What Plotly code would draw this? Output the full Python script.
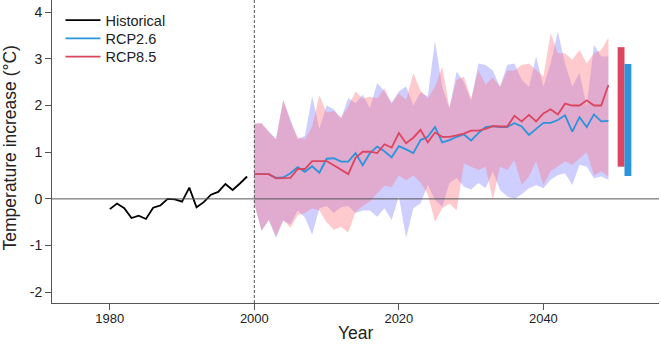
import plotly.graph_objects as go

hist_years = list(range(1980, 2000))
hist_vals = [-0.22, -0.10, -0.20, -0.41, -0.36, -0.43, -0.19, -0.14, 0.00, -0.01,
             -0.06, 0.24, -0.18, -0.07, 0.09, 0.15, 0.32, 0.19, 0.33, 0.48]

proj_years = list(range(2000, 2050))
rcp26_mean = [0.53, 0.53, 0.53, 0.45, 0.46, 0.55, 0.68, 0.58, 0.70, 0.56,
              0.86, 0.87, 0.80, 0.80, 0.98, 0.72, 0.98, 1.12, 1.02, 0.89,
              1.13, 1.06, 0.98, 1.26, 1.33, 1.54, 1.21, 1.26, 1.33, 1.38,
              1.25, 1.41, 1.54, 1.56, 1.54, 1.54, 1.62, 1.55, 1.37, 1.50,
              1.63, 1.63, 1.69, 1.79, 1.44, 1.75, 1.54, 1.81, 1.66, 1.67]
rcp85_mean = [0.53, 0.53, 0.53, 0.44, 0.44, 0.45, 0.64, 0.64, 0.81, 0.81,
              0.81, 0.72, 0.62, 0.53, 0.88, 1.01, 1.01, 0.98, 1.17, 1.10,
              1.41, 1.19, 1.31, 1.48, 1.21, 1.42, 1.33, 1.33, 1.36, 1.40,
              1.46, 1.46, 1.50, 1.56, 1.55, 1.55, 1.78, 1.66, 1.80, 1.66,
              1.83, 1.92, 1.81, 2.04, 2.00, 2.00, 2.11, 2.00, 2.00, 2.44]
rcp26_upper = [1.61, 1.62, 1.44, 1.28, 2.12, 1.70, 1.28, 1.35, 2.20, 1.50,
               2.00, 1.92, 1.72, 2.16, 2.05, 2.23, 1.94, 2.48, 2.30, 2.06,
               2.30, 2.41, 2.00, 2.28, 2.20, 3.38, 2.40, 1.94, 2.73, 2.50,
               2.10, 2.90, 2.87, 2.75, 2.40, 2.87, 2.90, 2.55, 2.40, 3.05,
               2.40, 2.90, 3.58, 2.90, 2.40, 2.70, 1.98, 3.30, 3.05, 3.05]
rcp85_upper = [1.61, 1.62, 1.44, 1.28, 2.12, 1.65, 1.32, 1.28, 1.55, 2.22,
               1.85, 1.88, 1.74, 1.98, 2.30, 2.15, 2.19, 2.15, 2.37, 2.04,
               2.26, 2.12, 2.69, 2.32, 2.15, 2.40, 2.83, 1.96, 2.55, 2.62,
               2.15, 2.75, 2.45, 2.60, 2.40, 2.75, 2.75, 2.87, 2.90, 2.75,
               2.62, 3.55, 3.12, 3.12, 2.98, 3.19, 2.90, 3.12, 3.19, 3.45]
rcp26_lower = [-0.10, -0.68, -0.45, -0.84, -0.47, -0.55, -0.25, -0.40, -0.77, -0.20,
               -0.15, -0.30, -0.18, -0.15, -0.30, -0.25, -0.25, -0.38, -0.20, -0.45,
               0.05, -0.84, -0.20, -0.10, 0.30, -0.02, -0.17, 0.34, 0.45, 0.26,
               0.20, 0.34, 0.23, 0.59, 0.19, 0.05, 0.00, 0.10, 0.23, 0.30,
               0.23, 0.41, 0.51, 0.55, 0.30, 0.73, 0.69, 0.44, 0.48, 0.41]
rcp85_lower = [-0.10, -0.68, -0.45, -0.80, -0.45, -0.62, -0.35, -0.30, -0.20, -0.25,
               -0.50, -0.66, -0.60, -0.72, -0.28, -0.15, -0.05, 0.12, 0.28, 0.25,
               0.50, 0.40, 0.50, 0.35, 0.10, -0.49, -0.20, -0.10, -0.25, 0.76,
               0.69, 0.62, 0.69, -0.02, 0.69, 0.62, 0.83, 0.30, 0.48, 0.80,
               0.30, 0.59, 0.69, 0.80, 0.73, 0.87, 1.00, 0.50, 0.59, 0.48]

bar_x_rcp85 = [2050.75]
bar_x_rcp26 = [2051.7]
range_rcp85 = [0.69, 3.25]
range_rcp26 = [0.49, 2.89]

x_tickvals = [1980, 2000, 2020, 2040]
y_tickvals = [-2, -1, 0, 1, 2, 3, 4]
y_ticktext = ["-2", "-1", "0", "1", "2", "3", "4"]

BLUE = "#2b94db"
RED = "#dc4560"
BLUE_FILL = "rgba(120,120,255,0.36)"
RED_FILL = "rgba(255,115,125,0.38)"
AXIS = "#555555"
FONT = "Arial, Liberation Sans, sans-serif"

fig = go.Figure()

fig.add_trace(go.Scatter(x=proj_years + proj_years[::-1],
                         y=rcp26_upper + rcp26_lower[::-1],
                         fill="toself", fillcolor=BLUE_FILL, line=dict(width=0),
                         mode="lines", showlegend=False, hoverinfo="skip"))
fig.add_trace(go.Scatter(x=proj_years + proj_years[::-1],
                         y=rcp85_upper + rcp85_lower[::-1],
                         fill="toself", fillcolor=RED_FILL, line=dict(width=0),
                         mode="lines", showlegend=False, hoverinfo="skip"))

fig.add_trace(go.Scatter(x=hist_years, y=hist_vals, mode="lines", name="Historical",
                         line=dict(color="black", width=1.8), legend="legend"))
fig.add_trace(go.Scatter(x=proj_years, y=rcp26_mean, mode="lines", name="RCP2.6",
                         line=dict(color=BLUE, width=1.8), legend="legend2"))
fig.add_trace(go.Scatter(x=proj_years, y=rcp85_mean, mode="lines", name="RCP8.5",
                         line=dict(color=RED, width=1.8), legend="legend3"))

fig.add_trace(go.Bar(x=bar_x_rcp85, y=[range_rcp85[1] - range_rcp85[0]], base=[range_rcp85[0]],
                     width=0.95, marker=dict(color=RED, line=dict(width=0)),
                     showlegend=False, hoverinfo="skip"))
fig.add_trace(go.Bar(x=bar_x_rcp26, y=[range_rcp26[1] - range_rcp26[0]], base=[range_rcp26[0]],
                     width=0.95, marker=dict(color=BLUE, line=dict(width=0)),
                     showlegend=False, hoverinfo="skip"))

fig.add_hline(y=0, line=dict(color=AXIS, width=1))
fig.add_vline(x=2000, line=dict(color=AXIS, width=1, dash="3px,2px"))


def leg(ypos):
    return dict(x=0.014, y=ypos, xanchor="left", yanchor="top",
                bgcolor="rgba(0,0,0,0)", font=dict(size=14.5, family=FONT, color="#222"),
                itemwidth=35)


fig.update_layout(
    width=661, height=347,
    margin=dict(l=52, r=2, t=0, b=44, autoexpand=False),
    paper_bgcolor="white", plot_bgcolor="white",
    font=dict(family=FONT, color="#222", size=14),
    barmode="overlay",
    hovermode=False,
    legend=leg(0.986),
    legend2=leg(0.926),
    legend3=leg(0.866),
    xaxis=dict(range=[1972, 2056], tickvals=x_tickvals, automargin=False,
               showgrid=False, zeroline=False, showline=True, linecolor=AXIS,
               linewidth=1, ticks="outside", ticklen=6, tickcolor=AXIS,
               tickfont=dict(size=13), ticklabelstandoff=-3),
    yaxis=dict(range=[-2.23, 4.26], tickvals=y_tickvals, ticktext=y_ticktext,
               automargin=False,
               showgrid=False, zeroline=False, showline=True, linecolor=AXIS,
               linewidth=1, ticks="outside", ticklen=6, tickcolor=AXIS,
               tickfont=dict(size=14)),
    annotations=[
        dict(text="Year", xref="paper", yref="paper", x=0.5, y=-0.099,
             xanchor="center", yanchor="middle", showarrow=False,
             font=dict(size=17.5, family=FONT, color="#222")),
        dict(text="Temperature increase (°C)", xref="paper", yref="paper",
             x=-42 / 607, y=0.51, xanchor="center", yanchor="middle",
             textangle=-90, showarrow=False,
             font=dict(size=17.5, family=FONT, color="#222")),
    ],
)

fig.write_html("out.html", config={"displayModeBar": False},
               post_script="document.body.style.margin='0';")
